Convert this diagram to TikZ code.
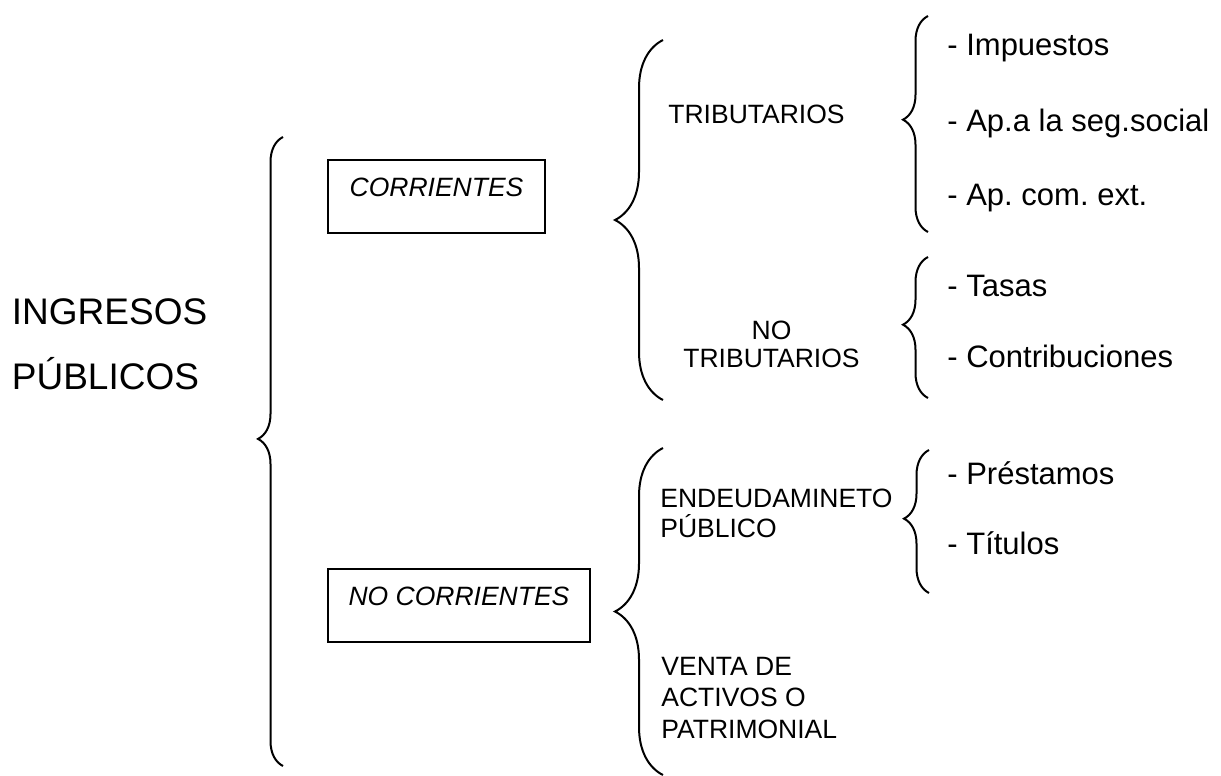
\documentclass[tikz,border=0pt]{standalone}
\usepackage{fontspec}
\setmainfont{Liberation Sans}
\frenchspacing
\usepackage{tikz}
\usetikzlibrary{decorations.pathreplacing}
\tikzstyle{title} = [inner sep=0pt, anchor=north west, align=left,
    font=\fontsize{18.5}{32.5}\selectfont]
\tikzstyle{group} = [draw, line width=1pt, inner xsep=0pt, inner ysep=0pt,
    text height=18.25pt, text depth=18.25pt, anchor=base,
    font=\fontsize{13.25}{15}\selectfont\itshape]
\tikzstyle{kind} = [inner sep=0pt, anchor=north west, align=left,
    font=\fontsize{13.25}{15}\selectfont]
\tikzstyle{item} = [inner sep=0pt, anchor=base west,
    font=\fontsize{15.5}{18}\selectfont]
\tikzstyle{bigbrace} = [decorate, line width=1pt,
    decoration={brace, amplitude=24pt}]
\tikzstyle{smallbrace} = [decorate, line width=1pt,
    decoration={brace, amplitude=12.5pt, aspect=0.52}]

\begin{document}
\begin{tikzpicture}[x=0.5pt, y=-0.5pt]
    \useasboundingbox (0,0) rectangle (1221,776);

    % Title
    \node [title] (ingresos) at (11.5,298.75) {INGRESOS\\PÚBLICOS};
    \draw [smallbrace] (283,766) -- (283,137);

    % Two groups
    \node [group, minimum width=108.5pt] (corrientes) at (436.5,196.5) {CORRIENTES};
    \node [group, minimum width=131pt] (nocorrientes) at (459,605) {NO CORRIENTES};

    % Corrientes
    \draw [bigbrace] (663,400) -- (663,40);
    \node [kind, anchor=base west] (tributarios) at (668,123.5) {TRIBUTARIOS};
    \node [kind, anchor=north, align=center,
        font=\fontsize{13.25}{14}\selectfont] (notributarios) at (771.5,320.5) {NO\\TRIBUTARIOS};

    \draw [smallbrace] (928,232) -- (928,16);
    \node [item] (impuestos) at (947,55) {- Impuestos};
    \node [item] (segsocial) at (947,131) {- Ap.a la seg.social};
    \node [item] (comext) at (947,205) {- Ap. com. ext.};

    \draw [smallbrace] (928,398) -- (928,257);
    \node [item] (tasas) at (947,296) {- Tasas};
    \node [item] (contrib) at (947,367) {- Contribuciones};

    % No corrientes
    \draw [bigbrace] (663,775) -- (663,448);
    \node [kind] (endeudamiento) at (660,488.5) {ENDEUDAMINETO\\PÚBLICO};
    \node [kind, font=\fontsize{13.25}{15.75}\selectfont] (venta) at (661,656.5)
        {VENTA DE\\ACTIVOS O\\PATRIMONIAL};

    \draw [smallbrace] (929,593) -- (929,450);
    \node [item] (prestamos) at (947,484) {- Préstamos};
    \node [item] (titulos) at (947,554) {- Títulos};
\end{tikzpicture}
\end{document}
